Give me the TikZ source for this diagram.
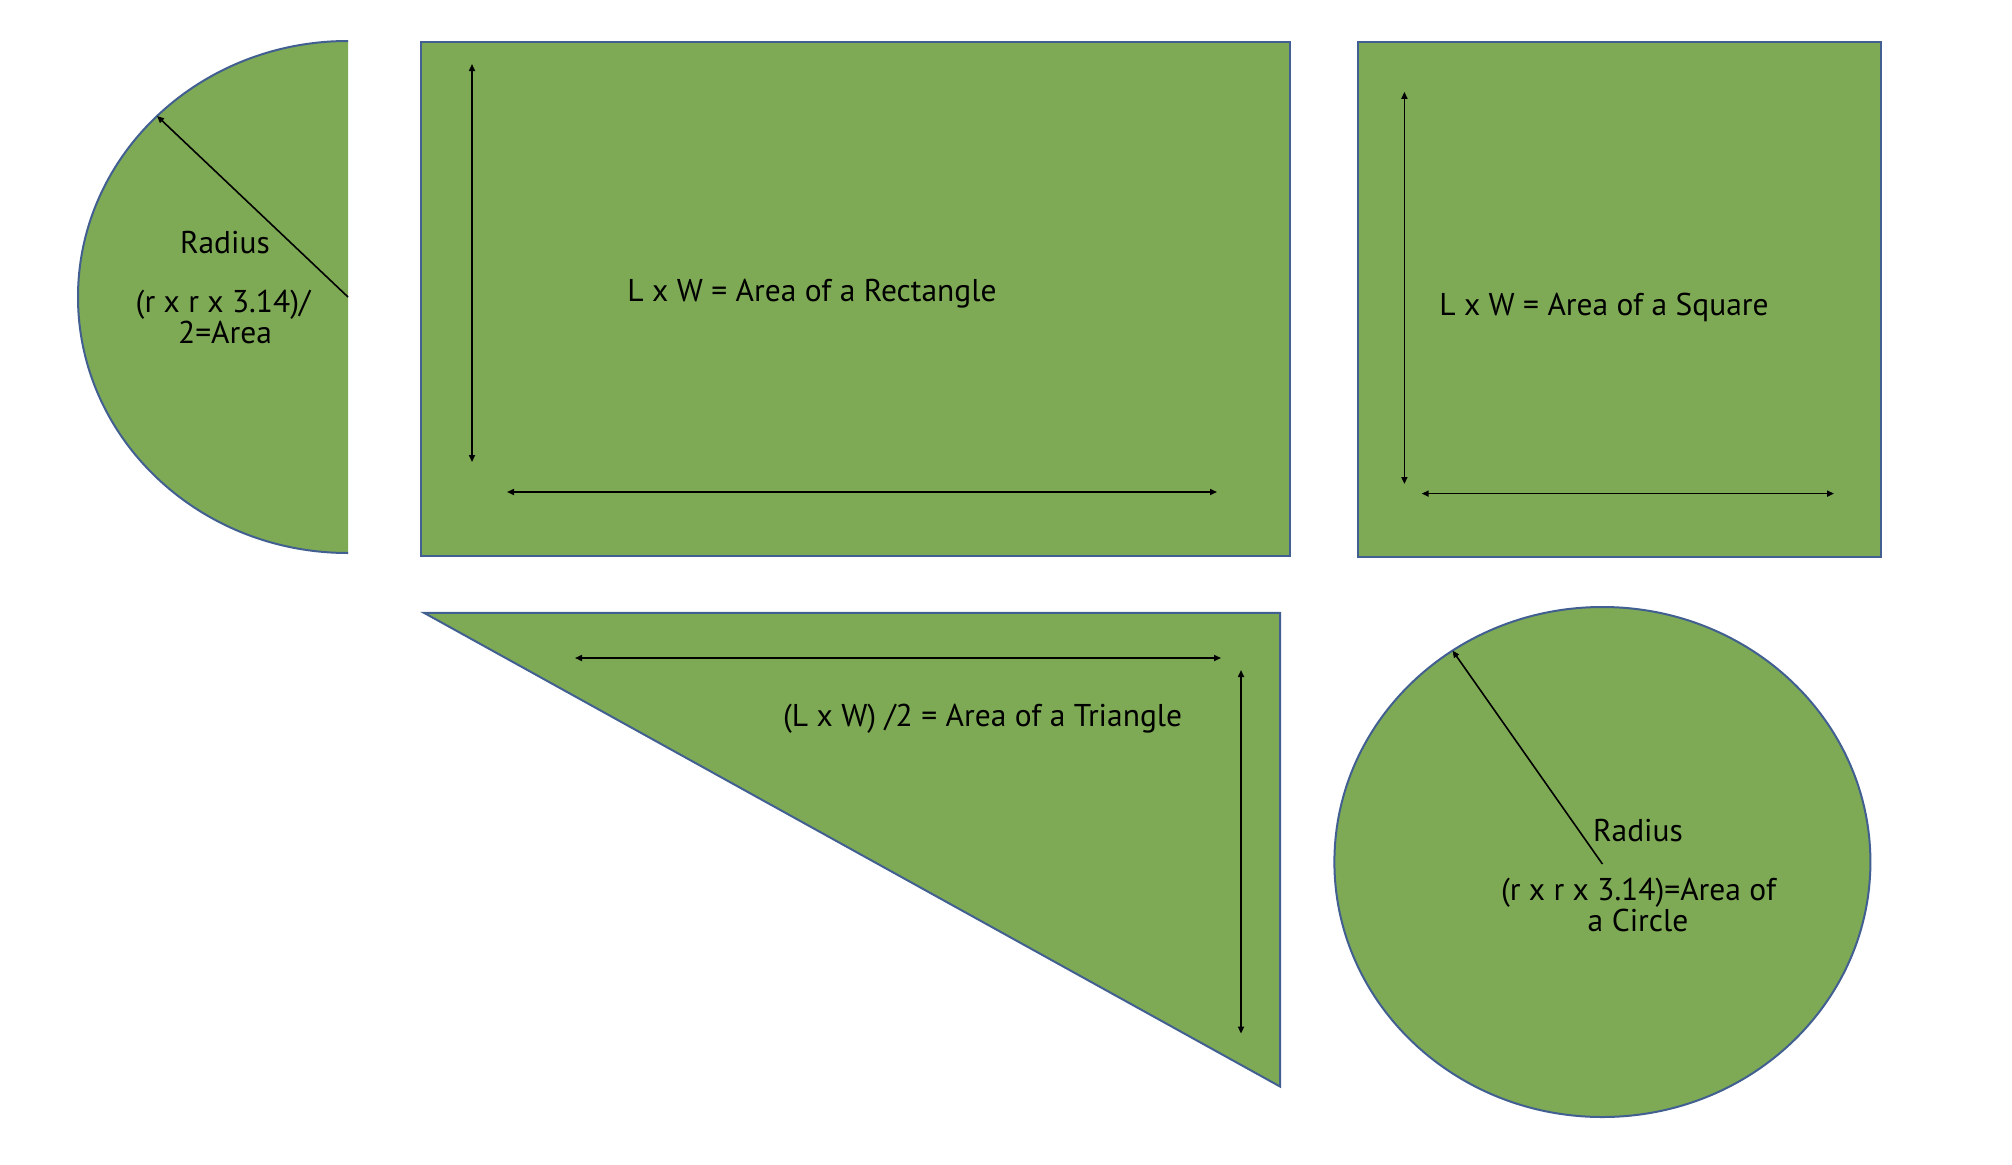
\documentclass[tikz,border=0pt]{standalone}
\usepackage{fontspec}
\setmainfont{PT Sans}
\usetikzlibrary{arrows.meta}
\definecolor{shapegreen}{RGB}{126,170,85}
\definecolor{shapeline}{RGB}{65,95,145}
\begin{document}
\begin{tikzpicture}[x=1pt,y=1pt,
  shapefill/.style={fill=shapegreen},
  shapeedge/.style={draw=shapeline,line width=2pt},
  dimarrow/.style={draw=black,line width=1.6pt,{Triangle[length=7pt,width=6pt]}-{Triangle[length=7pt,width=6pt]}},
  radarrow/.style={draw=black,line width=1.6pt,-{Triangle[length=7pt,width=6pt]}},
  lbl/.style={font=\fontsize{31.5}{33}\selectfont,text=black,inner sep=0pt,anchor=base}
]
\useasboundingbox[fill=white] (0,0) rectangle (2012,-1164);

% half circle
\coordinate (semiC) at (348,-297);
\fill[shapegreen] (348,-41) arc[start angle=90,end angle=270,x radius=270,y radius=256] -- cycle;
\draw[shapeedge] (348,-41) arc[start angle=90,end angle=270,x radius=270,y radius=256];
\coordinate (semiR) at ([shift={(348,-297)}]135:270 and 256);
\draw[radarrow] (semiC) -- (semiR);
\node[lbl] (semiT1) at (225,-253) {Radius};
\node[lbl] (semiT2) at (223,-312.5) {(r x r x 3.14)/};
\node[lbl] (semiT3) at (225,-343) {2=Area};

% rectangle
\draw[shapefill,shapeedge] (421,-42) rectangle (1290,-556);
\coordinate (rA) at (472,-64);
\coordinate (rB) at (472,-462);
\coordinate (rC) at (507,-492);
\coordinate (rD) at (1217,-492);
\draw[dimarrow] (rA) -- (rB);
\draw[dimarrow] (rC) -- (rD);
\node[lbl] (rectT) at (812,-301) {L x W = Area of a Rectangle};

% square
\draw[shapefill,shapeedge] (1357.7,-42.1) rectangle (1881,-556.8);
\coordinate (sA) at (1404.4,-91.8);
\coordinate (sB) at (1404.4,-484);
\coordinate (sC) at (1421.7,-493.6);
\coordinate (sD) at (1834,-493.6);
\draw[dimarrow] (sA) -- (sB);
\draw[dimarrow] (sC) -- (sD);
\node[lbl] (sqT) at (1604,-315) {L x W = Area of a Square};

% triangle
\draw[shapefill,shapeedge,line join=miter] (424,-612.8) -- (1280,-612.8) -- (1280,-1086.5) -- cycle;
\coordinate (tA) at (575,-658);
\coordinate (tB) at (1221,-658);
\coordinate (tC) at (1241,-670);
\coordinate (tD) at (1241,-1033.6);
\draw[dimarrow] (tA) -- (tB);
\draw[dimarrow] (tC) -- (tD);
\node[lbl] (triT) at (982.6,-726) {(L x W) /2 = Area of a Triangle};

% circle
\coordinate (circC) at (1602.4,-864);
\draw[shapefill,shapeedge] (1602.4,-862) ellipse[x radius=268,y radius=255];
\coordinate (circR) at ([shift={(1602.4,-862)}]124:268 and 255);
\draw[radarrow] (circC) -- (circR);
\node[lbl] (circT1) at (1638,-841) {Radius};
\node[lbl] (circT2) at (1638.5,-900) {(r x r x 3.14)=Area of};
\node[lbl] (circT3) at (1638,-931.5) {a Circle};
\end{tikzpicture}
\end{document}
